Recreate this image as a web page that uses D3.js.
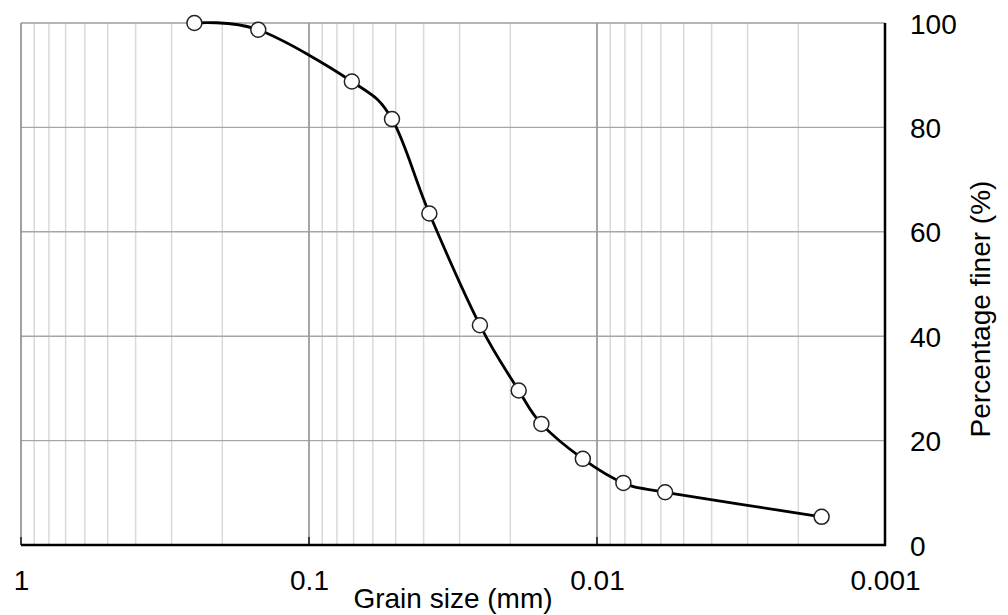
<!DOCTYPE html>
<html>
<head>
<meta charset="utf-8">
<script src="https://cdn.jsdelivr.net/npm/d3@7/dist/d3.min.js"></script>
<style>
  html, body { margin: 0; padding: 0; background: #fff; }
  svg { display: block; font-family: "Liberation Sans", Arial, sans-serif; }
</style>
</head>
<body>
<svg id="chart" width="1008" height="615"></svg>
<script>
// Grain size distribution (sieve + hydrometer)
const grainSize = [0.25, 0.15, 0.071, 0.0515, 0.0382, 0.0255, 0.0187, 0.0156, 0.0112, 0.0081, 0.0058, 0.00166];
const percentFiner = [100, 98.7, 88.8, 81.6, 63.5, 42.1, 29.6, 23.2, 16.5, 11.9, 10.1, 5.4];
const xTickValues = [1, 0.1, 0.01, 0.001];
const xTickLabels = ["1", "0.1", "0.01", "0.001"];
const yTickValues = [0, 20, 40, 60, 80, 100];

const svg = d3.select("#chart");
const plotL = 21, plotR = 885, plotT = 23, plotB = 545;

// Log scale running from coarse (left) to fine (right)
const x = d3.scaleLog().domain([1, 0.001]).range([plotL, plotR]);
const y = d3.scaleLinear().domain([0, 100]).range([plotB, plotT]);

// Minor vertical grid: 2..9 within each decade
const minor = [];
[1, 0.1, 0.01].forEach(dec => {
  for (let k = 2; k <= 9; k++) minor.push(dec * k / 10);
});
svg.append("g").selectAll("line").data(minor).join("line")
  .attr("x1", d => x(d)).attr("x2", d => x(d))
  .attr("y1", plotT).attr("y2", plotB)
  .attr("stroke", "#d9d9d9").attr("stroke-width", 1.5);

// Horizontal grid
svg.append("g").selectAll("line").data(yTickValues.filter(v => v > 0 && v < 100)).join("line")
  .attr("x1", plotL).attr("x2", plotR)
  .attr("y1", d => y(d)).attr("y2", d => y(d))
  .attr("stroke", "#a6a6a6").attr("stroke-width", 1.4);

// Decade gridlines
svg.append("g").selectAll("line").data([0.1, 0.01]).join("line")
  .attr("x1", d => x(d)).attr("x2", d => x(d))
  .attr("y1", plotT).attr("y2", plotB)
  .attr("stroke", "#9c9c9c").attr("stroke-width", 1.8);

// Top and left frame
svg.append("line").attr("x1", plotL).attr("x2", plotR).attr("y1", plotT).attr("y2", plotT)
  .attr("stroke", "#9c9c9c").attr("stroke-width", 1.6);
svg.append("line").attr("x1", plotL).attr("x2", plotL).attr("y1", plotT).attr("y2", plotB)
  .attr("stroke", "#8a8a8a").attr("stroke-width", 1.6);

// Bottom axis with short inward ticks at decades
const xAxis = d3.axisBottom(x).tickValues(xTickValues)
  .tickFormat((d, i) => xTickLabels[i]).tickSize(0).tickPadding(0);
const gx = svg.append("g").attr("transform", `translate(0,${plotB})`).call(xAxis);
gx.select(".domain").remove();
gx.selectAll("text").attr("y", 45).attr("dy", null)
  .attr("font-size", 28).attr("fill", "#000").attr("font-family", "Liberation Sans, Arial, sans-serif");
svg.append("g").selectAll("line").data([1, 0.1, 0.01]).join("line")
  .attr("x1", d => x(d)).attr("x2", d => x(d))
  .attr("y1", plotB - 8).attr("y2", plotB)
  .attr("stroke", "#333").attr("stroke-width", 1.8);

// Right axis labels
const yAxis = d3.axisRight(y).tickValues(yTickValues).tickSize(0).tickPadding(0);
const gy = svg.append("g").attr("transform", `translate(${plotR},0)`).call(yAxis);
gy.select(".domain").remove();
gy.selectAll("text").attr("x", 25).attr("dy", "0.36em")
  .attr("font-size", 28).attr("fill", "#000").attr("font-family", "Liberation Sans, Arial, sans-serif");

// Bottom and right axis lines
svg.append("path")
  .attr("d", `M${plotL},${plotB}H${plotR}V${plotT}`)
  .attr("fill", "none").attr("stroke", "#000").attr("stroke-width", 2.5);

// Axis titles
svg.append("text").attr("x", (plotL + plotR) / 2).attr("y", 608)
  .attr("text-anchor", "middle").attr("font-size", 28).attr("fill", "#000")
  .text("Grain size (mm)");
svg.append("text")
  .attr("transform", `translate(990,309) rotate(-90)`)
  .attr("text-anchor", "middle").attr("font-size", 28).attr("fill", "#000")
  .text("Percentage finer (%)");

// Smoothed gradation curve
const pts = grainSize.map((g, i) => [g, percentFiner[i]]);
const line = d3.line().x(d => x(d[0])).y(d => y(d[1])).curve(d3.curveCatmullRom.alpha(0));
svg.append("path").datum(pts).attr("d", line)
  .attr("fill", "none").attr("stroke", "#000").attr("stroke-width", 2.8);

// Markers
svg.append("g").selectAll("circle").data(pts).join("circle")
  .attr("cx", d => x(d[0])).attr("cy", d => y(d[1])).attr("r", 7.5)
  .attr("fill", "#fff").attr("stroke", "#222").attr("stroke-width", 1.5);
</script>
</body>
</html>
